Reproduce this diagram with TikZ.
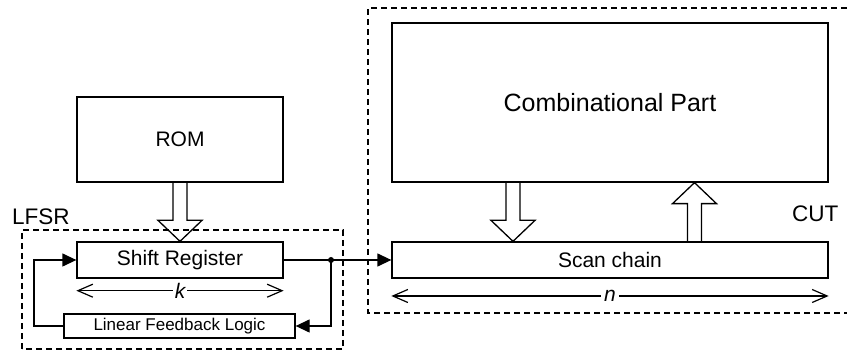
\documentclass[tikz,border=0pt]{standalone}
\usepackage{fontspec}
\setmainfont{Liberation Sans}
\usetikzlibrary{arrows.meta,calc}
\tikzset{
  blk/.style={draw, line width=1.3pt, inner sep=0pt, rectangle},
  wire/.style={line width=1.3pt},
  fillarr/.style={wire, -{Triangle[length=14pt,width=13pt]}},
  dimarr/.style={line width=1.2pt, {Straight Barb[length=15pt,width=13pt]}-{Straight Barb[length=15pt,width=13pt]}},
  hollow/.style={line width=1.3pt, line join=miter},
  frame/.style={line width=1.2pt, dash pattern=on 6pt off 4pt},
}
\newcommand{\hollowarr}[3]{% #1 start, #2 tip, #3 direction (+1 down, -1 up)
  \draw[hollow] ($(#1)+(-7,0)$) -- ($(#2)+(-7,#3*21)$) -- ($(#2)+(-22,#3*21)$) -- (#2)
    -- ($(#2)+(22,#3*21)$) -- ($(#2)+(7,#3*21)$) -- ($(#1)+(7,0)$);}
\begin{document}
\begin{tikzpicture}[x=1pt,y=1pt]
\useasboundingbox (0,0) rectangle (847,353);
% blocks
\node[blk, minimum width=206pt, minimum height=85pt, font=\fontsize{21}{24}\selectfont] (rom) at (180,213.5) {ROM};
\node[blk, minimum width=206pt, minimum height=36pt, font=\fontsize{21}{24}\selectfont] (sr) at (180,93) {Shift Register};
\node[blk, minimum width=231pt, minimum height=24pt, font=\fontsize{17}{20}\selectfont] (lfl) at (179.5,27) {Linear Feedback Logic};
\node[blk, minimum width=436pt, minimum height=159pt, font=\fontsize{25}{28}\selectfont] (comb) at (610,250.5) {Combinational Part};
\node[blk, minimum width=436pt, minimum height=36pt, font=\fontsize{21}{24}\selectfont] (scan) at (610,93) {Scan chain};
% labels
\node[anchor=base west, inner sep=0pt, font=\fontsize{22.5}{26}\selectfont] (lfsrlbl) at (12,128) {LFSR};
\node[anchor=base west, inner sep=0pt, font=\fontsize{22.5}{26}\selectfont] (cutlbl) at (792,131) {CUT};
% wires
\coordinate (dot) at (331,0 |- sr.east);
\coordinate (fbl) at (34,0 |- lfl.west);
\draw[wire] (sr.east) -- (dot);
\draw[fillarr] (dot) -- (scan.west);
\draw[fillarr] (dot) |- (lfl.east);
\draw[fillarr] (lfl.west) -- (fbl) |- (sr.west);
\fill (dot) circle (3pt);
% dimension arrows
\coordinate (k1) at (sr.west |- 0,62.3);
\coordinate (k2) at (sr.east |- 0,62.3);
\draw[dimarr] (k1) -- (k2) node[midway, fill=white, inner sep=2pt, font=\fontsize{21}{24}\selectfont\itshape] (klbl) {k};
\coordinate (n1) at (scan.west |- 0,57);
\coordinate (n2) at (scan.east |- 0,57);
\draw[dimarr] (n1) -- (n2) node[midway, fill=white, inner sep=3pt, font=\fontsize{21}{24}\selectfont\itshape] (nlbl) {n};
% hollow arrows
\coordinate (h1a) at (rom.south);
\coordinate (h1b) at (sr.north);
\hollowarr{h1a}{h1b}{1}
\coordinate (h2a) at ([xshift=-97pt]comb.south);
\coordinate (h2b) at ([xshift=-97pt]scan.north);
\hollowarr{h2a}{h2b}{1}
\coordinate (h3a) at ([xshift=84.5pt]scan.north);
\coordinate (h3b) at ([xshift=84.5pt]comb.south);
\hollowarr{h3a}{h3b}{-1}
% dashed frames
\draw[frame] (22,4) rectangle (343,123);
\draw[frame] (850,40) -- (368,40) -- (368,345) -- (850,345);
\end{tikzpicture}
\end{document}
